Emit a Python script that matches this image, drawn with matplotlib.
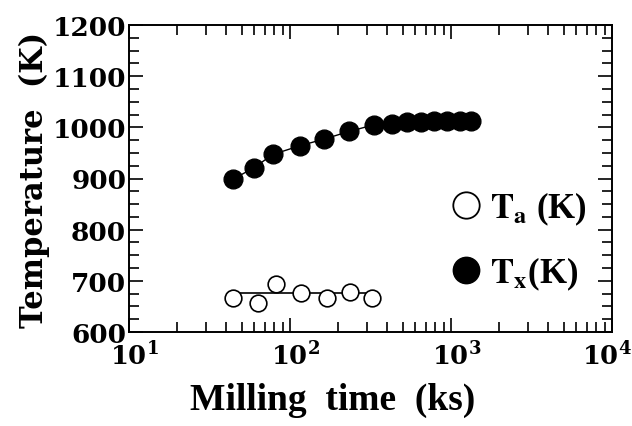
import matplotlib
matplotlib.use("Agg")
import matplotlib.pyplot as plt
import matplotlib.transforms as mtransforms
from matplotlib.lines import Line2D
from matplotlib.font_manager import FontProperties
from matplotlib.ticker import FixedLocator, FixedFormatter, LogLocator, NullFormatter, MultipleLocator

# crystallization temperature Tx (filled circles)
tx_time = [44.5, 59.7, 78.2, 115.3, 162.6, 233.5, 332.5, 430, 533, 652, 784, 944, 1138, 1330]
tx_temp = [899, 921, 947, 964, 977, 992, 1005, 1007, 1010, 1011, 1012, 1012, 1012, 1012]

# Ta (open circles)
ta_time = [44.1, 63.5, 81.8, 116.5, 170.5, 236, 324]
ta_temp = [667, 657, 694, 677, 667, 678, 667]
ta_fit = 677  # level of the flat line through the open circles

x_ticks = [10, 100, 1000, 10000]
x_tick_labels = [r"$\mathbf{10^{1}}$", r"$\mathbf{10^{2}}$", r"$\mathbf{10^{3}}$", r"$\mathbf{10^{4}}$"]
legend_labels = [r"$\mathbf{T_{a}}$ (K)", r"$\mathbf{T_{x}}$(K)"]

plt.rcParams["mathtext.fontset"] = "dejavuserif"

fig = plt.figure(figsize=(6.32, 4.27), dpi=100)
ax = fig.add_axes([129 / 632, 1 - 333 / 427, (612 - 129) / 632, (333 - 26) / 427])

# Tx: line through filled circles
ax.plot(tx_time, tx_temp, color="black", lw=1.0, zorder=2)
ax.plot(tx_time, tx_temp, ls="", marker="o", ms=13.5, mfc="black", mec="black", zorder=3)

# Ta: flat line behind open circles
ax.plot([ta_time[0], ta_time[-1]], [ta_fit, ta_fit], color="black", lw=1.2, zorder=2)
ax.plot(ta_time, ta_temp, ls="", marker="o", ms=12, mfc="white", mec="black", mew=1.2, zorder=3)

ax.set_xscale("log")
ax.set_xlim(10, 10000)
ax.set_ylim(600, 1200)

ax.xaxis.set_major_locator(FixedLocator(x_ticks))
ax.xaxis.set_major_formatter(FixedFormatter(x_tick_labels))
ax.xaxis.set_minor_locator(LogLocator(base=10, subs=range(2, 10)))
ax.xaxis.set_minor_formatter(NullFormatter())
ax.yaxis.set_major_locator(MultipleLocator(100))
ax.yaxis.set_minor_locator(MultipleLocator(25))

ax.tick_params(which="both", direction="in", top=True, right=True, width=1.2)
ax.tick_params(which="major", length=10)
ax.tick_params(which="minor", length=7)
ax.tick_params(axis="y", pad=2)
ax.tick_params(axis="x", pad=7)

for lbl in ax.get_yticklabels():
    lbl.set_fontfamily("DejaVu Serif")
    lbl.set_fontweight("bold")
    lbl.set_fontsize(19)
# keep the "10" centred on its tick, exponent hanging to the right
# (the last one is nudged left so it fits inside the figure)
shift = mtransforms.ScaledTranslation(4 / 72, 0, fig.dpi_scale_trans)
last_shift = mtransforms.ScaledTranslation(-4 / 72, 0, fig.dpi_scale_trans)
xlabels = ax.get_xticklabels()
for lbl in xlabels:
    lbl.set_fontsize(18.5)
for lbl in xlabels[:-1]:
    lbl.set_transform(lbl.get_transform() + shift)
xlabels[-1].set_transform(xlabels[-1].get_transform() + last_shift)

for sp in ax.spines.values():
    sp.set_linewidth(1.4)

fig.text(0.055, 0.5 * ((1 - 333 / 427) + (1 - 26 / 427)), "Temperature  (K)",
         rotation=90, ha="center", va="center",
         family="DejaVu Serif", weight="bold", fontsize=22)
fig.text(333 / 632, 1 - 400 / 427, "Milling  time  (ks)", ha="center", va="center",
         family="Liberation Serif", weight="bold", fontsize=27)

handles = [
    Line2D([], [], ls="", marker="o", ms=19, mfc="white", mec="black", mew=1.3),
    Line2D([], [], ls="", marker="o", ms=19, mfc="black", mec="black"),
]
leg_font = FontProperties(family="Liberation Serif", weight="bold", size=25, math_fontfamily="stix")
ax.legend(handles, legend_labels, loc="center left", bbox_to_anchor=(0.633, 0.298),
          frameon=False, prop=leg_font, handletextpad=0.2, labelspacing=0.8,
          handlelength=1.0, borderaxespad=0)

fig.savefig("out.png", dpi=100)
